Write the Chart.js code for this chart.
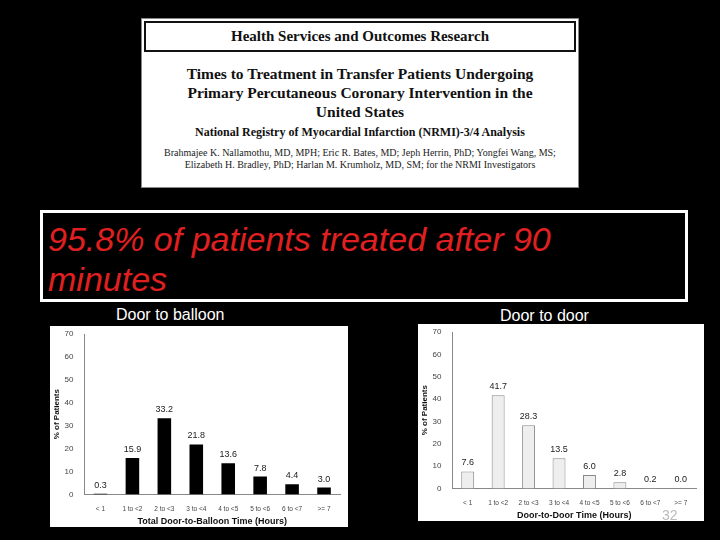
<!DOCTYPE html>
<html><head><meta charset="utf-8">
<script src="https://cdn.jsdelivr.net/npm/chart.js@4"></script>
<style>
body{margin:0;width:720px;height:540px;background:#000;position:relative;overflow:hidden;font-family:"Liberation Serif",serif}
#hdr{position:absolute;left:141px;top:18px;width:438px;height:170px;background:#fff;border:1px solid #888;box-sizing:border-box}
#hdr .bar{margin:2px;height:27px;background:#fff;border:2px solid #111;font-weight:bold;font-size:15px;text-align:center;line-height:26px;color:#111}
#hdr .t{font-weight:bold;font-size:15.5px;text-align:center;line-height:19px;margin-top:12px;color:#111}
#hdr .s{font-weight:bold;font-size:12px;text-align:center;margin-top:4px;color:#111}
#hdr .a{font-size:10px;text-align:center;line-height:12px;margin-top:7px;color:#222}
#red{position:absolute;left:40px;top:210px;width:648px;height:92px;border:3px solid #fff;box-sizing:border-box;color:#e02020;font-family:"Liberation Sans",sans-serif;font-style:italic;font-size:34px;line-height:40px;padding:6px 0 0 5px}
.lab{position:absolute;color:#fff;font-family:"Liberation Sans",sans-serif;font-size:16px}
.box{position:absolute;background:#fff}
#num{position:absolute;left:662px;top:507px;color:#bbb;font-family:"Liberation Sans",sans-serif;font-size:14px}
</style></head><body>
<div id="hdr"><div class="bar">Health Services and Outcomes Research</div>
<div class="t">Times to Treatment in Transfer Patients Undergoing<br>Primary Percutaneous Coronary Intervention in the<br>United States</div>
<div class="s">National Registry of Myocardial Infarction (NRMI)-3/4 Analysis</div>
<div class="a">Brahmajee K. Nallamothu, MD, MPH; Eric R. Bates, MD; Jeph Herrin, PhD; Yongfei Wang, MS;<br>Elizabeth H. Bradley, PhD; Harlan M. Krumholz, MD, SM; for the NRMI Investigators</div></div>
<div id="red">95.8% of patients treated after 90<br>minutes</div>
<div class="lab" style="left:116px;top:306px">Door to balloon</div>
<div class="lab" style="left:500px;top:307px">Door to door</div>
<div class="box" style="left:50px;top:326px;width:298px;height:201px"><canvas id="c1" width="298" height="201"></canvas></div>
<div class="box" style="left:418px;top:324px;width:286px;height:197px"><canvas id="c2" width="286" height="197"></canvas></div>
<div id="num">32</div>
<script>
const categories=["< 1","1 to <2","2 to <3","3 to <4","4 to <5","5 to <6","6 to <7",">= 7"];
const categories2=["< 1","1 to <2","2 to <3","3 to <4","4 to <5","5 to <6","6 to <7",">= 7"];
const balloonValues=[0.3,15.9,33.2,21.8,13.6,7.8,4.4,3.0];
const doorValues=[7.6,41.7,28.3,13.5,6.0,2.8,0.2,0.0];
const yTicks=[0,10,20,30,40,50,60,70];
const labelPlugin={id:'lbl',afterDatasetsDraw(ch){const c=ch.ctx;const m=ch.getDatasetMeta(0);c.save();c.fillStyle='#222';c.font='9px "Liberation Sans"';c.textAlign='center';m.data.forEach((b,i)=>{c.fillText(ch.data.datasets[0].data[i].toFixed(1),b.x,b.y-6)});c.restore();}};
function make(id,cats,vals,fill,title){
new Chart(document.getElementById(id),{type:'bar',data:{labels:cats,datasets:[{data:vals,backgroundColor:fill,borderColor:'#888',borderWidth:fill==='#000'?0:1,categoryPercentage:0.85,barPercentage:0.5}]},
options:{responsive:false,animation:false,layout:{padding:{top:8,right:8,left:2}},plugins:{legend:{display:false},tooltip:{enabled:false}},
scales:{x:{grid:{display:false},border:{color:'#888'},ticks:{color:'#444',font:{size:6.5,family:'Liberation Sans'},maxRotation:0,autoSkip:false},title:{display:true,text:title,color:'#111',font:{size:9,weight:'bold',family:'Liberation Sans'},padding:0}},
y:{min:0,max:70,afterBuildTicks(a){a.ticks=yTicks.map(v=>({value:v}))},grid:{display:false},border:{color:'#888'},ticks:{color:'#444',font:{size:8,family:'Liberation Sans'}},title:{display:true,text:'% of Patients',color:'#111',font:{size:8,weight:'bold',family:'Liberation Sans'},padding:0}}}},plugins:[labelPlugin]});}
make('c1',categories,balloonValues,'#000','Total Door-to-Balloon Time (Hours)');
make('c2',categories2,doorValues,'#eee','Door-to-Door Time (Hours)');
</script></body></html>
